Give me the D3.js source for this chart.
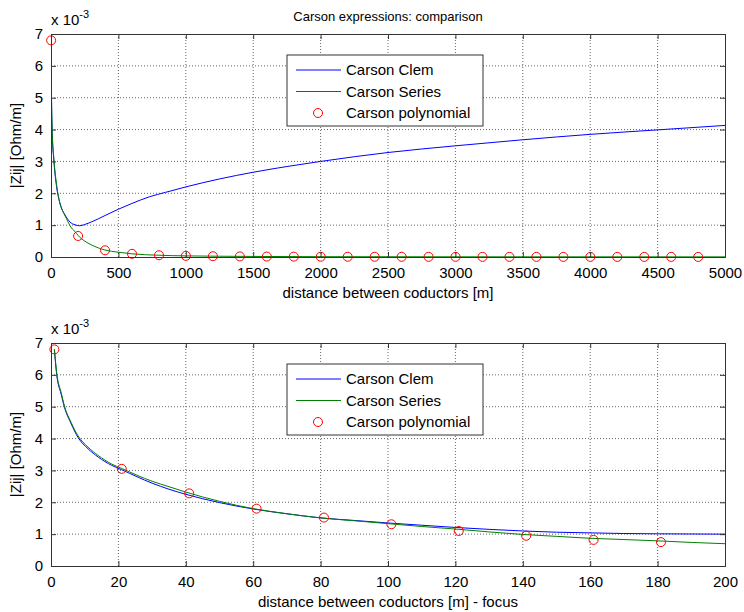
<!DOCTYPE html>
<html>
<head>
<meta charset="utf-8">
<script src="https://cdn.jsdelivr.net/npm/d3@7"></script>
<style>
  body { margin: 0; background: #fff; }
  svg { display: block; font-family: "Liberation Sans", Arial, sans-serif; }
  .grid line { stroke: #666; stroke-dasharray: 1,2; stroke-width: 1; }
</style>
</head>
<body>
<div id="chart"></div>
<script>
// values in units of 1e-3 Ohm/m
var clemFull = [[1,6.8],[4,4.98],[10,3.8],[20,3.1],[40,2.25],[60,1.79],[80,1.51],[100,1.35],[120,1.21],[140,1.1],[160,1.04],[180,1.01],[210,0.98],[250,1.02],[300,1.1],[400,1.3],[500,1.5],[600,1.68],[730,1.89],[850,2.03],[1000,2.2],[1250,2.45],[1500,2.66],[1750,2.84],[2000,3.0],[2500,3.28],[3000,3.49],[3500,3.68],[4000,3.85],[4500,3.99],[5000,4.13]];
var seriesFull = [[1,6.8],[4,5.0],[10,3.85],[20,3.15],[40,2.32],[60,1.8],[80,1.51],[100,1.33],[120,1.16],[140,0.99],[160,0.87],[180,0.79],[200,0.68],[250,0.5],[300,0.38],[400,0.22],[500,0.15],[600,0.1],[800,0.055],[1000,0.035],[1500,0.018],[2000,0.01],[3000,0.006],[5000,0.004]];
var polyFullX = [1,201,401,601,801,1001,1201,1401,1601,1801,2001,2201,2401,2601,2801,3001,3201,3401,3601,3801,4001,4201,4401,4601,4801];
var polyFullY = [6.8,0.66,0.21,0.1,0.055,0.035,0.025,0.018,0.014,0.011,0.009,0.008,0.007,0.006,0.005,0.005,0.004,0.004,0.004,0.003,0.003,0.003,0.003,0.003,0.002];

var clemFocus = [[1,6.8],[1.7,6.0],[3,5.4],[4,4.98],[6,4.46],[8,4.04],[11,3.68],[14,3.42],[18,3.16],[21,3.02],[30,2.6],[35,2.41],[40,2.25],[50,1.99],[60,1.79],[70,1.64],[80,1.51],[90,1.43],[100,1.35],[110,1.28],[120,1.21],[130,1.15],[140,1.1],[150,1.06],[160,1.04],[170,1.02],[180,1.01],[200,1.0]];
var seriesFocus = [[1,6.8],[1.7,6.05],[3,5.45],[4,5.02],[6,4.5],[8,4.09],[11,3.73],[14,3.47],[18,3.2],[21,3.06],[30,2.66],[35,2.49],[40,2.32],[50,2.03],[60,1.8],[70,1.64],[80,1.51],[90,1.42],[100,1.33],[110,1.24],[120,1.16],[130,1.07],[140,0.99],[150,0.93],[160,0.87],[170,0.83],[180,0.79],[190,0.74],[200,0.7]];
var polyFocusX = [1,21,41,61,81,101,121,141,161,181];
var polyFocusY = [6.8,3.05,2.28,1.8,1.52,1.31,1.1,0.95,0.82,0.75];

var yTicks = [0,1,2,3,4,5,6,7];
var legendNames = ["Carson Clem", "Carson Series", "Carson polynomial"];

var width = 744, height = 612;
var svg = d3.select("#chart").append("svg").attr("width", width).attr("height", height);

svg.append("text").attr("x", 388).attr("y", 21).attr("text-anchor", "middle")
  .attr("font-size", 13).text("Carson expressions: comparison");

function panel(top, bottom, xMax, xStep, clem, ser, px, py, xlabel) {
  var x = d3.scaleLinear().domain([0, xMax]).range([51, 725]);
  var y = d3.scaleLinear().domain([0, 7]).range([bottom, top]);
  var g = svg.append("g");
  var xTicks = d3.range(0, xMax + 1, xStep);

  // grid
  var grid = g.append("g").attr("class", "grid");
  grid.selectAll("line.v").data(xTicks.slice(1, -1)).enter().append("line")
    .attr("x1", d => x(d)).attr("x2", d => x(d)).attr("y1", top).attr("y2", bottom);
  grid.selectAll("line.h").data(yTicks.slice(1, -1)).enter().append("line")
    .attr("x1", 51).attr("x2", 725).attr("y1", d => y(d)).attr("y2", d => y(d));

  var clip = "clip" + top;
  svg.append("clipPath").attr("id", clip).append("rect")
    .attr("x", 51).attr("y", top).attr("width", 674).attr("height", bottom - top);

  var line = d3.line().x(d => x(d[0])).y(d => y(d[1])).curve(d3.curveMonotoneX);
  var lg = g.append("g").attr("clip-path", "url(#" + clip + ")");
  lg.append("path").datum(clem).attr("d", line).attr("fill", "none").attr("stroke", "#0000ff").attr("stroke-width", 1);
  lg.append("path").datum(ser).attr("d", line).attr("fill", "none").attr("stroke", "#008000").attr("stroke-width", 1);
  g.selectAll("circle.p").data(px).enter().append("circle")
    .attr("cx", d => x(d)).attr("cy", (d, i) => y(py[i])).attr("r", 4.5)
    .attr("fill", "none").attr("stroke", "#ff0000").attr("stroke-width", 1);

  // axes (ticks inside, mirrored)
  var ax = g.append("g");
  ax.append("g").attr("transform", "translate(0," + bottom + ")")
    .call(d3.axisBottom(x).tickValues(xTicks).tickSize(-5).tickPadding(10).tickFormat(d3.format("d")));
  ax.append("g").attr("transform", "translate(0," + top + ")")
    .call(d3.axisTop(x).tickValues(xTicks).tickSize(-5).tickFormat(""));
  ax.append("g").attr("transform", "translate(51,0)")
    .call(d3.axisLeft(y).tickValues(yTicks).tickSize(-5).tickPadding(8).tickFormat(d3.format("d")));
  ax.append("g").attr("transform", "translate(725,0)")
    .call(d3.axisRight(y).tickValues(yTicks).tickSize(-5).tickFormat(""));
  ax.selectAll(".domain").attr("stroke", "#333");
  ax.selectAll(".tick line").attr("stroke", "#333");
  ax.selectAll("text").attr("font-size", 15).attr("fill", "#000")
    .attr("font-family", "Liberation Sans, Arial, sans-serif");

  // exponent label
  var ex = g.append("text").attr("x", 51).attr("y", top - 9).attr("font-size", 15);
  ex.append("tspan").text("x 10");
  ex.append("tspan").attr("dy", -7).attr("font-size", 11).text("-3");

  g.append("text").attr("x", 388).attr("y", bottom + 41).attr("text-anchor", "middle")
    .attr("font-size", 15).text(xlabel);
  g.append("text").attr("transform", "translate(21," + ((top + bottom) / 2) + ") rotate(-90)")
    .attr("text-anchor", "middle").attr("font-size", 15).text("|Zij| [Ohm/m]");

  // legend
  var lx = 287, ly = top + 21;
  var leg = g.append("g");
  leg.append("rect").attr("x", lx).attr("y", ly).attr("width", 196).attr("height", 71)
    .attr("fill", "#fff").attr("stroke", "#333").attr("stroke-width", 1);
  var colors = ["#0000ff", "#008000", "#ff0000"];
  legendNames.forEach(function(name, i) {
    var cy = ly + 15 + i * 21.5;
    if (i < 2) {
      leg.append("line").attr("x1", lx + 9).attr("x2", lx + 54).attr("y1", cy).attr("y2", cy)
        .attr("stroke", colors[i]).attr("stroke-width", 1);
    } else {
      leg.append("circle").attr("cx", lx + 31).attr("cy", cy).attr("r", 4.5)
        .attr("fill", "none").attr("stroke", colors[i]);
    }
    leg.append("text").attr("x", lx + 59).attr("y", cy + 5).attr("font-size", 15).text(name);
  });
}

panel(34, 257, 5000, 500, clemFull, seriesFull, polyFullX, polyFullY, "distance between coductors [m]");
panel(343, 566, 200, 20, clemFocus, seriesFocus, polyFocusX, polyFocusY, "distance between coductors [m] - focus");
</script>
</body>
</html>
